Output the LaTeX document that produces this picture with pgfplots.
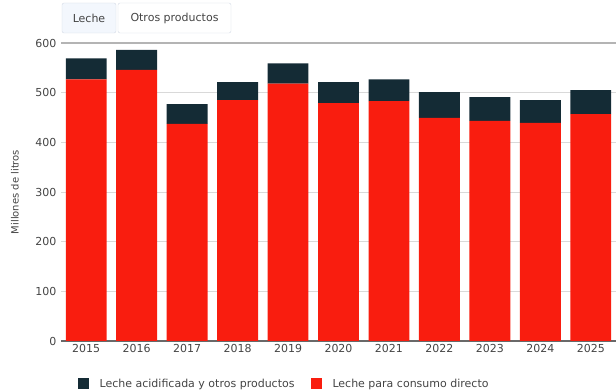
\documentclass[border=0pt]{standalone}
\usepackage{pgfplots}
\pgfplotsset{compat=1.18}
\usepackage{fontspec}
\setmainfont{DejaVu Sans}
\definecolor{redc}{HTML}{F91D0F}
\definecolor{darkc}{HTML}{142B35}
\definecolor{gridc}{HTML}{D9D9D9}
\definecolor{topc}{HTML}{B4B4B4}
\definecolor{txt}{HTML}{444444}
\definecolor{btnb}{HTML}{D3DAE4}
\definecolor{btnf}{HTML}{F3F7FD}
\begin{document}
\begin{tikzpicture}
\path[use as bounding box] (0,0) rectangle (616bp,392bp);
\node[draw=btnb, fill=btnf, rounded corners=2bp, minimum width=54bp, minimum height=30bp, inner sep=0pt, font=\fontsize{11bp}{13bp}\selectfont, text=txt] at (89bp,374bp) {Leche};
\node[draw=btnb, fill=white, rounded corners=2bp, minimum width=113bp, minimum height=30bp, inner sep=0pt, font=\fontsize{11bp}{13bp}\selectfont, text=txt] at (174.5bp,374bp) {Otros productos};
\begin{axis}[
  at={(61bp,51bp)}, anchor=south west,
  scale only axis, width=555bp, height=298bp,
  ybar stacked, bar width=0.81,
  xmin=-0.5, xmax=10.5, ymin=0, ymax=600,
  xtick={0,...,10},
  xticklabels={2015,2016,2017,2018,2019,2020,2021,2022,2023,2024,2025},
  ytick={0,100,...,600},
  ymajorgrids, grid style={color=gridc, line width=0.9bp},
  extra y ticks={600}, extra y tick labels={},
  extra y tick style={grid style={color=topc, line width=1.6bp}},
  axis x line*=bottom, axis y line*=left,
  y axis line style={draw=none},
  x axis line style={color=txt!80, line width=1.3bp, -},
  major tick length=0pt,
  tick label style={font=\fontsize{11bp}{13bp}\selectfont, text=txt},
  /pgf/number format/assume math mode=true,
  yticklabel style={xshift=-1bp},
  ylabel={Millones de litros},
  ylabel style={at={(axis description cs:-0.083,0.5)}, anchor=center, font=\fontsize{10bp}{12bp}\selectfont, text=txt},
  legend style={at={(axis description cs:0.402,-0.144)}, anchor=center, draw=none, fill=none,
    legend columns=2, font=\fontsize{11bp}{13bp}\selectfont, text=txt,
    /tikz/every even column/.append style={column sep=14bp}},
  legend image code/.code={\fill[#1] (0bp,-5.5bp) rectangle (11bp,5.5bp); \path (20bp,0bp);},
  legend cell align=left,
]
\addplot[fill=redc, draw=none, forget plot] coordinates {
(0,527) (1,546) (2,437) (3,485) (4,518) (5,479) (6,483) (7,449) (8,443) (9,439) (10,457)};
\addplot[fill=darkc, draw=none, forget plot] coordinates {
(0,42) (1,40) (2,40) (3,36) (4,41) (5,42) (6,44) (7,52) (8,48) (9,46) (10,48)};
\addlegendimage{fill=darkc, draw=none}
\addlegendentry{Leche acidificada y otros productos}
\addlegendimage{fill=redc, draw=none}
\addlegendentry{Leche para consumo directo}
\end{axis}
\end{tikzpicture}
\end{document}
